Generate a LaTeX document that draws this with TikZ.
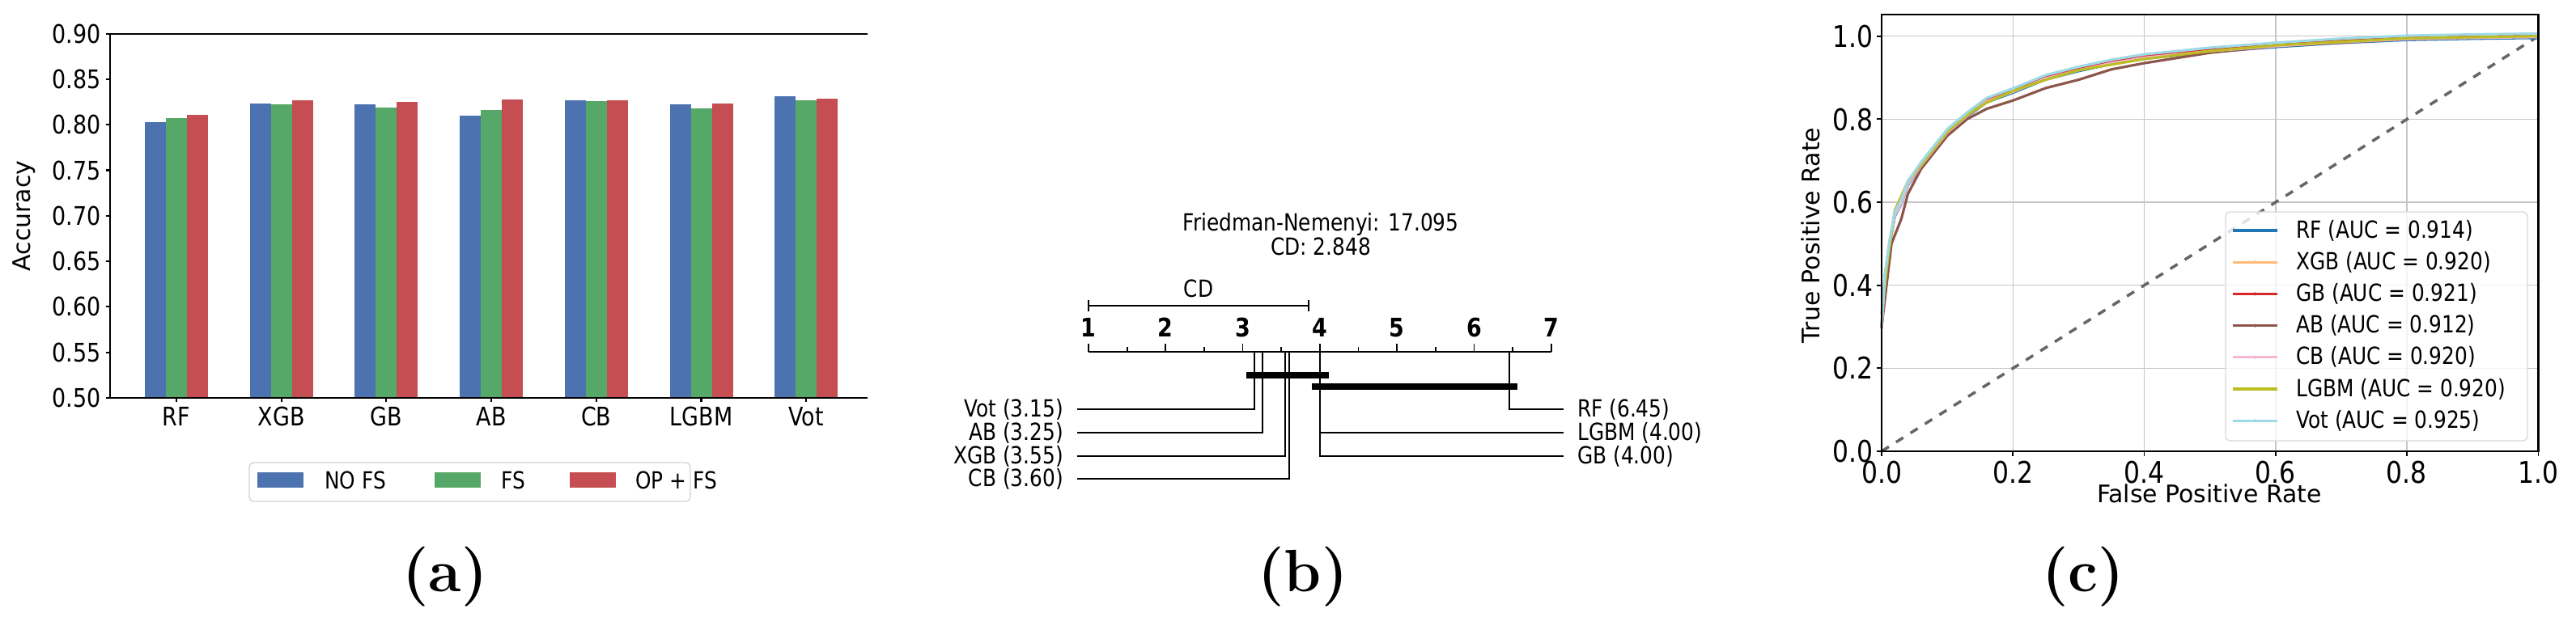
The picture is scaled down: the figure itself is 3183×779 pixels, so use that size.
\documentclass[tikz,border=0pt]{standalone}
\usepackage{fontspec}
\newfontfamily\dv{DejaVu Sans}
\newfontfamily\dvc[FakeStretch=0.85]{DejaVu Sans}
\definecolor{bblue}{HTML}{4C72B0}
\definecolor{bgreen}{HTML}{55A868}
\definecolor{bred}{HTML}{C44E52}
\definecolor{cRF}{HTML}{1F77B4}
\definecolor{cXGB}{HTML}{FFBB78}
\definecolor{cGB}{HTML}{D62728}
\definecolor{cAB}{HTML}{8C564B}
\definecolor{cCB}{HTML}{F7B6D2}
\definecolor{cLG}{HTML}{BCBD22}
\definecolor{cVot}{HTML}{9EDAE5}
\newcommand\rocpts{(0,0.30) (0.005,0.42) (0.012,0.50) (0.02,0.57) (0.03,0.60) (0.04,0.645) (0.06,0.69) (0.08,0.73) (0.1,0.77) (0.13,0.81) (0.16,0.845) (0.2,0.868) (0.25,0.90) (0.3,0.92) (0.35,0.937) (0.4,0.95) (0.5,0.966) (0.6,0.978) (0.7,0.988) (0.8,0.995) (0.9,0.998) (1,1)}
\tikzset{
  ticktxt/.style={font=\dvc\fontsize{9}{10}\selectfont, inner sep=1pt},
  tickc/.style={font=\dvc\fontsize{10.5}{12}\selectfont, inner sep=1pt},
  lab/.style={font=\dv\fontsize{8.5}{10}\selectfont, inner sep=1pt},
  cdlab/.style={font=\dvc\fontsize{8.3}{9}\selectfont, inner sep=1pt},
  leg/.style={font=\dvc\fontsize{8.3}{9}\selectfont, inner sep=1pt, anchor=west},
  captxt/.style={font=\fontsize{21}{24}\selectfont\bfseries, inner sep=0pt},
  roc/.style={line width=0.9pt},
  axisline/.style={line width=0.6pt},
}
\begin{document}
\begin{tikzpicture}[x=0.01cm,y=-0.01cm]
\useasboundingbox (0,0) rectangle (3183,779);
% ---------------- (a) ----------------
\foreach \n/\a/\b/\c [count=\i from 0] in {RF/0.803/0.807/0.811, XGB/0.823/0.822/0.827, GB/0.822/0.819/0.825, AB/0.810/0.816/0.828, CB/0.827/0.826/0.827, LGBM/0.822/0.818/0.823, Vot/0.831/0.827/0.829}{
  \pgfmathsetmacro{\cx}{218+\i*129.7}
  \fill[bblue] (\cx-39,492) rectangle (\cx-13,{492-(\a-0.5)*1126});
  \fill[bgreen] (\cx-13,492) rectangle (\cx+13,{492-(\b-0.5)*1126});
  \fill[bred] (\cx+13,492) rectangle (\cx+39,{492-(\c-0.5)*1126});
  \draw[axisline] (\cx,492) -- (\cx,497);
  \node[ticktxt, anchor=north] (xa\i) at (\cx,499) {\n};
}
\foreach \v [count=\j from 0] in {0.50,0.55,0.60,0.65,0.70,0.75,0.80,0.85,0.90}{
  \pgfmathsetmacro{\yy}{492-\j*56.3}
  \draw[axisline] (136,\yy) -- (131,\yy);
  \node[ticktxt, anchor=east] (ya\j) at (129,\yy) {\v};
}
\draw[axisline] (1072,41.6) -- (136,41.6) -- (136,492) -- (1072,492);
\node[lab, rotate=90] (acc) at (30,267) {Accuracy};
\draw[gray!35, rounded corners=1.5pt] (308,572) rectangle (853,620);
\fill[bblue] (318,584) rectangle (375,603);
\node[leg] (l1) at (397,594) {NO FS};
\fill[bgreen] (537,584) rectangle (594,603);
\node[leg] (l2) at (615,594) {FS};
\fill[bred] (704,584) rectangle (761,603);
\node[leg] (l3) at (781,594) {OP + FS};
\node[captxt] (capa) at (550,713) {(a)};
% ---------------- (b) ----------------
\node[cdlab] (t1) at (1632,277) {Friedman-Nemenyi: 17.095};
\node[cdlab] (t2) at (1632,305) {CD: 2.848};
\node[cdlab] (cdt) at (1481,357) {CD};
\draw[line width=0.5pt] (1345,378) -- (1617,378);
\draw[line width=0.5pt] (1345,371) -- (1345,385) (1617,371) -- (1617,385);
\draw[line width=0.6pt] (1345,435) -- (1917,435);
\foreach \r in {0,...,12}{
  \pgfmathsetmacro{\xx}{1345+\r*47.65}
  \pgfmathsetmacro{\tl}{mod(\r,2)==0 ? 10 : 6}
  \draw[line width=0.5pt] (\xx,435) -- (\xx,435-\tl);
}
\foreach \r in {1,...,7}{
  \node[inner sep=1pt, font=\dvc\fontsize{9}{10}\selectfont\bfseries] (rk\r) at ({1345+(\r-1)*95.3},405) {\r};
}
\draw[line width=0.5pt] (1550,435) |- (1331,506);
\draw[line width=0.5pt] (1560,435) |- (1331,535);
\draw[line width=0.5pt] (1588,435) |- (1331,564);
\draw[line width=0.5pt] (1593,435) |- (1331,592);
\draw[line width=0.5pt] (1865,435) |- (1932,506);
\draw[line width=0.5pt] (1631,435) |- (1932,535);
\draw[line width=0.5pt] (1631,435) |- (1932,564);
\draw[line width=2pt] (1540,464) -- (1642,464);
\draw[line width=2pt] (1621,478) -- (1875,478);
\node[cdlab, anchor=east] (lv) at (1318,506) {Vot (3.15)};
\node[cdlab, anchor=east] (la) at (1318,535) {AB (3.25)};
\node[cdlab, anchor=east] (lx) at (1318,564) {XGB (3.55)};
\node[cdlab, anchor=east] (lc) at (1318,592) {CB (3.60)};
\node[cdlab, anchor=west] (rr) at (1945,506) {RF (6.45)};
\node[cdlab, anchor=west] (rl) at (1945,535) {LGBM (4.00)};
\node[cdlab, anchor=west] (rg) at (1945,564) {GB (4.00)};
\node[captxt] (capb) at (1610,713) {(b)};
% ---------------- (c) ----------------
\begin{scope}[shift={(2325,558)}]
\begin{scope}[x=8.11cm,y=5.13cm]
\foreach \t in {0.2,0.4,0.6,0.8}{
  \draw[gray!45, line width=0.4pt] (\t,0) -- (\t,1.0526) (0,\t) -- (1,\t);
}
\draw[gray!45, line width=0.4pt] (0,1) -- (1,1);
\draw[gray!80!black, dashed, line width=1pt] (0,0) -- (1,1);
\draw[roc, cRF, yshift=-0.6pt] plot[sharp plot] coordinates {\rocpts};
\draw[roc, cXGB] plot[sharp plot] coordinates {\rocpts};
\draw[roc, cGB, yshift=0.4pt] plot[sharp plot] coordinates {\rocpts};
\draw[roc, cAB] plot[sharp plot] coordinates {(0,0.3) (0.015,0.5) (0.03,0.56) (0.04,0.62) (0.06,0.68) (0.08,0.72) (0.1,0.76) (0.13,0.80) (0.16,0.825) (0.2,0.845) (0.25,0.875) (0.3,0.895) (0.35,0.92) (0.4,0.935) (0.5,0.96) (0.6,0.976) (0.8,0.993) (1,1)};
\draw[roc, cCB, yshift=-0.3pt] plot[sharp plot] coordinates {\rocpts};
\draw[roc, cLG] plot[sharp plot] coordinates {(0,0.33) (0.01,0.47) (0.02,0.58) (0.04,0.65) (0.06,0.69) (0.1,0.77) (0.13,0.81) (0.16,0.84) (0.2,0.868) (0.25,0.895) (0.3,0.918) (0.4,0.945) (0.5,0.964) (0.6,0.978) (0.8,0.995) (1,1)};
\draw[roc, cVot, yshift=0.9pt] plot[sharp plot] coordinates {\rocpts};
\draw[axisline] (0,0) rectangle (1,1.0526);
\foreach \t in {0.0,0.2,0.4,0.6,0.8,1.0}{
  \draw[line width=0.5pt] (\t,0) -- (\t,-0.012) (0,\t) -- (-0.008,\t);
}
\end{scope}
\end{scope}
\foreach \t [count=\k from 0] in {0.0,0.2,0.4,0.6,0.8,1.0}{
  \node[tickc, anchor=north] (xc\k) at ({2325+\k*162.2},566) {\t};
  \node[tickc, anchor=east] (yc\k) at (2319,{558-\k*102.6}) {\t};
}
\node[lab] (fpr) at (2730,610) {False Positive Rate};
\node[lab, rotate=90] (tpr) at (2237,291) {True Positive Rate};
\draw[gray!30, fill=white, fill opacity=0.8, rounded corners=1.5pt] (2750,262) rectangle (3123,545);
\foreach \c/\t [count=\m from 0] in {cRF/RF (AUC = 0.914), cXGB/XGB (AUC = 0.920), cGB/GB (AUC = 0.921), cAB/AB (AUC = 0.912), cCB/CB (AUC = 0.920), cLG/LGBM (AUC = 0.920), cVot/Vot (AUC = 0.925)}{
  \pgfmathsetmacro{\yy}{285+\m*39.2}
  \draw[roc, \c] (2759,\yy) -- (2814,\yy);
  \fill[\c] (2786.5,\yy) circle (2);
  \node[leg] (lg\m) at (2833,\yy) {\t};
}
\node[captxt] (capc) at (2574,713) {(c)};
\end{tikzpicture}
\end{document}
